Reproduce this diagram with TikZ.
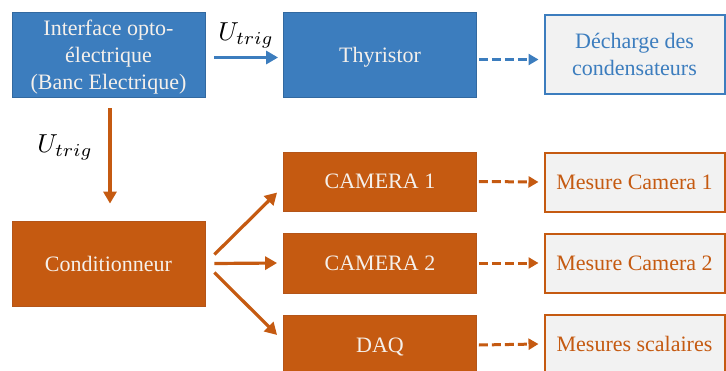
\documentclass[tikz,border=0pt]{standalone}
\usepackage{fontspec}
\setmainfont{Liberation Serif}
\usetikzlibrary{arrows.meta}
\definecolor{bblue}{RGB}{60,125,190}
\definecolor{bblueline}{RGB}{50,105,160}
\definecolor{borange}{RGB}{197,90,17}
\definecolor{borangeline}{RGB}{180,85,25}
\definecolor{lgray}{RGB}{242,242,242}
\definecolor{ltext}{RGB}{245,240,235}
\tikzset{
  boxtext/.style={inner sep=0pt,align=center,text depth=0pt,font=\fontsize{22}{27}\selectfont},
  bluebox/.style={boxtext,draw=bblueline,line width=0.8pt,fill=bblue,text=ltext,minimum width=193pt,minimum height=85pt},
  orbox/.style={boxtext,draw=borangeline,line width=0.8pt,fill=borange,text=ltext,minimum width=193pt},
  outblue/.style={boxtext,draw=bblue,line width=2pt,fill=lgray,text=bblue,minimum width=180pt,minimum height=79pt},
  outor/.style={boxtext,draw=borange,line width=2pt,fill=lgray,text=borange,minimum width=180pt,minimum height=59pt},
  solidarr/.style={line width=3.2pt,-{Triangle[length=12pt,width=13pt]}},
  dasharr/.style={line width=3pt,dash pattern=on 9pt off 4pt,-{Triangle[length=10pt,width=11pt]}},
  lbl/.style={inner sep=0pt,scale=2.6}
}
\begin{document}
\begin{tikzpicture}[x=1pt,y=-1pt]
\useasboundingbox (0,0) rectangle (726,370);
\node[bluebox] (iface) at (108.5,54.5) {Interface opto-\\électrique\\(Banc Electrique)};
\node[bluebox] (thy) at (380,54.5) {Thyristor};
\node[outblue] (dech) at (634.5,54.5) {Décharge des\\condensateurs};
\node[orbox,minimum height=85pt] (cond) at (108.5,263.5) {Conditionneur};
\node[orbox,minimum height=59pt] (cam1) at (380,181.5) {CAMERA 1};
\node[orbox,minimum height=60pt] (cam2) at (380,263) {CAMERA 2};
\node[orbox,minimum height=60pt] (daq) at (380,345) {DAQ};
\node[outor] (mes1) at (634.5,182) {Mesure Camera 1};
\node[outor] (mes2) at (634.5,263) {Mesure Camera 2};
\node[outor] (mes3) at (634.5,344) {Mesures scalaires};

\draw[solidarr,bblue] ([xshift=9pt,yshift=-3pt]iface.east) -- ([xshift=-5pt,yshift=-3pt]thy.west);
\node[lbl] (l1) at (246,35) {$U_{trig}$};
\draw[dasharr,bblue] ([xshift=2pt,yshift=-5pt]thy.east) -- ([xshift=-5pt,yshift=-5pt]dech.west);

\draw[solidarr,borange] ([xshift=1.5pt,yshift=-11pt]iface.south) -- ([xshift=1.5pt,yshift=17pt]cond.north);
\node[lbl] (l2) at (65,147) {$U_{trig}$};

\draw[solidarr,borange] ([xshift=9pt,yshift=9pt]cond.east) -- ([xshift=-6pt,yshift=-11pt]cam1.west);
\draw[solidarr,borange] ([xshift=9pt]cond.east) -- ([xshift=-6pt]cam2.west);
\draw[solidarr,borange] ([xshift=9pt,yshift=-9pt]cond.east) -- ([xshift=-6pt,yshift=10pt]daq.west);

\draw[dasharr,borange] ([xshift=2pt]cam1.east) -- ([xshift=-5pt]mes1.west);
\draw[dasharr,borange] ([xshift=2pt]cam2.east) -- ([xshift=-5pt]mes2.west);
\draw[dasharr,borange] ([xshift=2pt]daq.east) -- ([xshift=-5pt]mes3.west);
\end{tikzpicture}
\end{document}
